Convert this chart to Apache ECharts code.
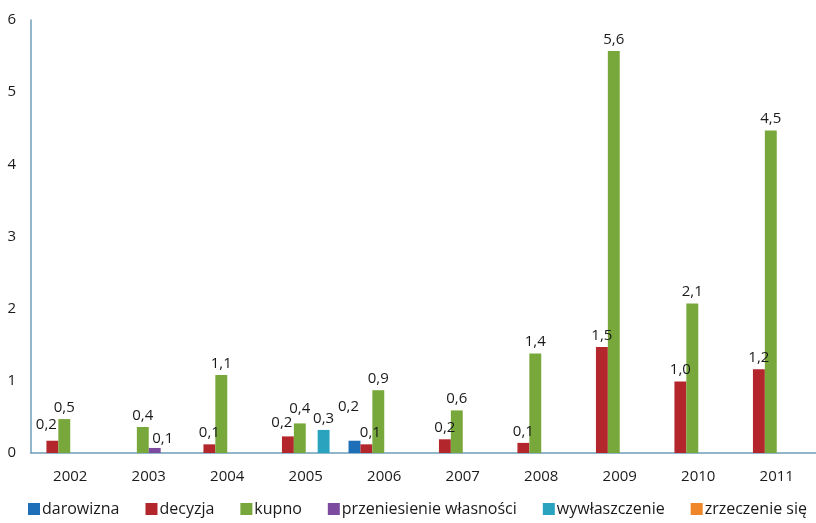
<!DOCTYPE html>
<html>
<head>
<meta charset="utf-8">
<script src="https://cdn.jsdelivr.net/npm/echarts@6/dist/echarts.min.js"></script>
<style>
  html, body { margin: 0; padding: 0; background: #fff; }
  #chart { width: 816px; height: 523px; }
</style>
</head>
<body>
<div id="chart"></div>
<script>
// lata
const years = ['2002', '2003', '2004', '2005', '2006', '2007', '2008', '2009', '2010', '2011'];
const yTicks = [0, 1, 2, 3, 4, 5, 6];

// wartości serii (null = brak słupka)
const darowizna     = [null, null, null, null, 0.17, null, null, null, null, null];
const decyzja       = [0.17, null, 0.12, 0.23, 0.12, 0.19, 0.14, 1.47, 0.99, 1.16];
const kupno         = [0.47, 0.36, 1.08, 0.41, 0.87, 0.59, 1.38, 5.57, 2.07, 4.47];
const przeniesienie = [null, 0.07, null, null, null, null, null, null, null, null];
const wywlaszczenie = [null, null, null, 0.32, null, null, null, null, null, null];
const zrzeczenie    = [null, null, null, null, null, null, null, null, null, null];

const seriesNames = ['darowizna', 'decyzja', 'kupno', 'przeniesienie własności', 'wywłaszczenie', 'zrzeczenie się'];
const seriesData = [darowizna, decyzja, kupno, przeniesienie, wywlaszczenie, zrzeczenie];
const colors = ['#1f6eb8', '#b3262c', '#78a83b', '#7c4a9e', '#2aa3bf', '#f0862a'];

// przesunięcia etykiet (jak w Excelu, żeby się nie nakładały) [seria, rok, dx, dy]
const labelShifts = [
  [1, 0, -6, -4],
  [3, 1, 8, 2],
  [1, 3, -6, -2],
  [2, 3, 0, -3],
  [0, 4, -6, -22],
  [1, 4, 4, 0]
];

const fontFamily = 'Open Sans, Noto Sans, sans-serif';

const chart = echarts.init(document.getElementById('chart'));

const series = seriesData.map((arr, si) => ({
  name: seriesNames[si],
  type: 'bar',
  barGap: '0%',
  barCategoryGap: '9%',
  itemStyle: { color: colors[si] },
  label: {
    show: true,
    position: 'top',
    distance: 4,
    color: '#1a1a1a',
    fontSize: 15,
    fontFamily: fontFamily,
    formatter: p => p.value.toFixed(1).replace('.', ',')
  },
  data: arr.map((v, i) => {
    const s = labelShifts.find(r => r[0] === si && r[1] === i);
    if (v !== null && s) {
      return { value: v, label: { offset: [s[2], s[3]] } };
    }
    return v;
  })
}));

const option = {
  animation: false,
  backgroundColor: '#fff',
  color: colors,
  grid: { left: 31, right: 0, top: 20, bottom: 70, containLabel: false },
  legend: {
    bottom: 6,
    left: 28,
    width: 816,
    padding: 0,
    itemWidth: 12,
    itemHeight: 12,
    itemGap: 26,
    icon: 'rect',
    textStyle: { fontSize: 16, color: '#1a1a1a', fontFamily: fontFamily, padding: [0, 0, 0, -3] },
    data: seriesNames
  },
  xAxis: {
    type: 'category',
    data: years,
    axisLine: { lineStyle: { color: '#6f9fb8', width: 1.5 } },
    axisTick: { show: false },
    axisLabel: { fontSize: 15, color: '#1a1a1a', margin: 16, fontFamily: fontFamily }
  },
  yAxis: {
    type: 'value',
    min: yTicks[0],
    max: yTicks[yTicks.length - 1],
    interval: 1,
    splitLine: { show: false },
    axisLine: { show: true, lineStyle: { color: '#6f9fb8', width: 1.5 } },
    axisTick: { show: false },
    axisLabel: { fontSize: 15, color: '#1a1a1a', margin: 15, fontFamily: fontFamily }
  },
  series: series
};

chart.setOption(option);
</script>
</body>
</html>
